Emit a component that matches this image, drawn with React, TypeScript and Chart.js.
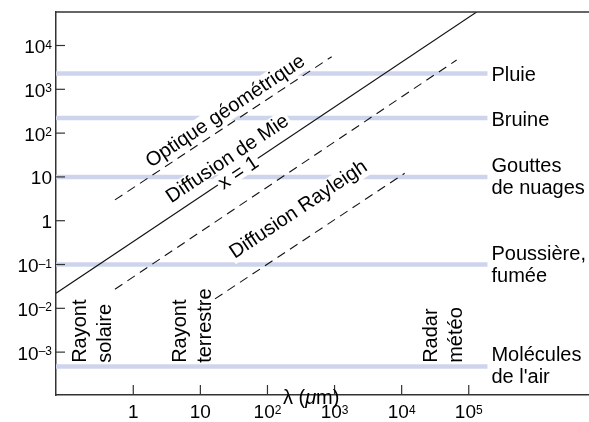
import React, { useEffect, useRef } from "react";
import { Chart, registerables } from "chart.js";

Chart.register(...registerables);

const FONT = "'Liberation Sans', Arial, Helvetica, sans-serif";

// Axis ranges (wavelength in µm on x, particle radius on y)
const xMin = 0.0705;
const xMax = 6.2e6;
const yMin = 1.05e-4;
const yMax = 58200;

// Tick values and labels
const xTickValues = [1, 10, 100, 1000, 10000, 100000];
const xTickBase = ["1", "10", "10", "10", "10", "10"];
const xTickExp = ["", "", "2", "3", "4", "5"];
const yTickValues = [1e4, 1e3, 1e2, 10, 1, 0.1, 0.01, 0.001];
const yTickBase = ["10", "10", "10", "10", "1", "10", "10", "10"];
const yTickExp = ["4", "3", "2", "", "", "–1", "–2", "–3"];

// Particle categories (horizontal bands)
const bandNames = [
  ["Pluie"],
  ["Bruine"],
  ["Gouttes", "de nuages"],
  ["Poussière,", "fumée"],
  ["Molécules", "de l'air"],
];
const bandRadius = [2300, 220, 10, 0.1, 0.00047];
const bandEnd = 190000;

// Regime boundaries (log-log straight lines)
const sizeParamOne = [
  { x: 0.0705, y: 0.0221 },
  { x: 131000, y: 58200 },
];
const geometricLimit = [
  { x: 0.533, y: 2.99 },
  { x: 906, y: 5550 },
];
const rayleighUpper = [
  { x: 0.533, y: 0.0273 },
  { x: 66000, y: 4670 },
];
const rayleighLower = [
  { x: 16.5, y: 0.0164 },
  { x: 11100, y: 12.1 },
];

// Rotated regime labels (centre in data coordinates)
const regimeText = ["Optique géométrique", "Diffusion de Mie", "x = 1", "Diffusion Rayleigh"];
const regimeX = [23.7, 24.5, 36.3, 290];
const regimeY = [311, 27.9, 13.0, 1.78];

// Vertical wavelength labels (bottom of first line in data coordinates)
const sourceText = [
  ["Rayont", "solaire"],
  ["Rayont", "terrestre"],
  ["Radar", "météo"],
];
const sourceX = [0.197, 6.1, 33400];
const sourceY = [5.7e-4, 5.7e-4, 5.7e-4];

const axisTitleX = 170;

function drawPow(ctx: CanvasRenderingContext2D, base: string, exp: string, x: number, y: number, align: string) {
  ctx.font = `19px ${FONT}`;
  const wb = ctx.measureText(base).width;
  ctx.font = `12px ${FONT}`;
  const we = exp ? ctx.measureText(exp).width : 0;
  const total = wb + we;
  const left = align === "center" ? x - total / 2 : x - total;
  ctx.textAlign = "left";
  ctx.textBaseline = "alphabetic";
  ctx.font = `19px ${FONT}`;
  ctx.fillText(base, left, y);
  if (exp) {
    ctx.font = `12px ${FONT}`;
    ctx.fillText(exp, left + wb, y - 4.5);
  }
}

const annotPlugin = {
  id: "annot",
  afterDraw(chart: any) {
    const { ctx, chartArea: ca } = chart;
    const xs = chart.scales.x;
    const ys = chart.scales.y;
    ctx.save();
    ctx.fillStyle = "#000";
    // top frame line
    ctx.strokeStyle = "#333";
    ctx.lineWidth = 1.5;
    ctx.beginPath();
    ctx.moveTo(ca.left, ca.top);
    ctx.lineTo(ca.right, ca.top);
    ctx.stroke();

    // inward ticks + labels
    ctx.lineWidth = 1.2;
    xTickValues.forEach((v, i) => {
      const px = xs.getPixelForValue(v);
      ctx.beginPath();
      ctx.moveTo(px, ca.bottom);
      ctx.lineTo(px, ca.bottom - 10);
      ctx.stroke();
      drawPow(ctx, xTickBase[i], xTickExp[i], px, ca.bottom + 23, "center");
    });
    yTickValues.forEach((v, i) => {
      const py = ys.getPixelForValue(v);
      ctx.beginPath();
      ctx.moveTo(ca.left, py);
      ctx.lineTo(ca.left + 9, py);
      ctx.stroke();
      drawPow(ctx, yTickBase[i], yTickExp[i], ca.left - 4, py + 7.5, "right");
    });

    // axis title λ (µm)
    {
      let px = xs.getPixelForValue(axisTitleX);
      const py = ca.bottom + 9;
      ctx.textAlign = "left";
      ctx.textBaseline = "alphabetic";
      const parts: [string, string][] = [
        ["λ (", `20px ${FONT}`],
        ["μ", `italic 20px ${FONT}`],
        ["m)", `20px ${FONT}`],
      ];
      parts.forEach(([t, f]) => {
        ctx.font = f;
        ctx.fillText(t, px, py);
        px += ctx.measureText(t).width;
      });
    }

    // band labels on the right
    ctx.font = `20px ${FONT}`;
    ctx.textAlign = "left";
    ctx.textBaseline = "alphabetic";
    bandNames.forEach((lines, i) => {
      const py = ys.getPixelForValue(bandRadius[i]);
      const px = xs.getPixelForValue(bandEnd) + 4;
      if (lines.length === 1) {
        ctx.fillText(lines[0], px, py + 8);
      } else {
        ctx.fillText(lines[0], px, py - 5);
        ctx.fillText(lines[1], px, py + 17);
      }
    });

    // rotated regime labels
    const a0x = xs.getPixelForValue(sizeParamOne[0].x);
    const a0y = ys.getPixelForValue(sizeParamOne[0].y);
    const a1x = xs.getPixelForValue(sizeParamOne[1].x);
    const a1y = ys.getPixelForValue(sizeParamOne[1].y);
    const ang = Math.atan2(a1y - a0y, a1x - a0x);
    regimeText.forEach((t, i) => {
      const px = xs.getPixelForValue(regimeX[i]);
      const py = ys.getPixelForValue(regimeY[i]);
      ctx.save();
      ctx.translate(px, py);
      ctx.rotate(ang);
      ctx.font = `20px ${FONT}`;
      const m = ctx.measureText(t);
      const asc = m.actualBoundingBoxAscent;
      const desc = m.actualBoundingBoxDescent;
      const h = asc + desc;
      ctx.fillStyle = "#fff";
      ctx.fillRect(-m.width / 2 - 2, -h / 2 - 1, m.width + 4, h + 2);
      ctx.fillStyle = "#000";
      ctx.textAlign = "center";
      ctx.textBaseline = "alphabetic";
      ctx.fillText(t, 0, (asc - desc) / 2);
      ctx.restore();
    });

    // vertical source labels
    sourceText.forEach((lines, i) => {
      const px = xs.getPixelForValue(sourceX[i]);
      const py = ys.getPixelForValue(sourceY[i]);
      ctx.save();
      ctx.translate(px, py);
      ctx.rotate(-Math.PI / 2);
      ctx.font = `20px ${FONT}`;
      ctx.fillStyle = "#000";
      ctx.textAlign = "left";
      ctx.textBaseline = "alphabetic";
      ctx.fillText(lines[0], 0, 0);
      ctx.fillText(lines[1], 0, 25);
      ctx.restore();
    });

    ctx.restore();
  },
};

export default function App() {
  const ref = useRef<HTMLCanvasElement>(null);
  useEffect(() => {
    if (!ref.current) return;
    const lineDs = (data: any[], dash: number[]) => ({
      data,
      showLine: true,
      borderColor: "#111",
      borderWidth: 1.1,
      borderDash: dash,
      pointRadius: 0,
      fill: false,
    });
    const bandDs = bandRadius.map((r) => ({
      data: [
        { x: xMin, y: r },
        { x: bandEnd, y: r },
      ],
      showLine: true,
      borderColor: "#ced4ec",
      borderWidth: 4.5,
      pointRadius: 0,
      fill: false,
    }));
    const chart = new Chart(ref.current, {
      type: "scatter",
      data: {
        datasets: [
          lineDs(sizeParamOne, []),
          lineDs(geometricLimit, [9, 6]),
          lineDs(rayleighUpper, [9, 6]),
          lineDs(rayleighLower, [9, 6]),
          ...bandDs,
        ] as any,
      },
      options: {
        animation: false,
        responsive: false,
        layout: { padding: { top: 12, left: 0, right: 0, bottom: 0 } },
        plugins: { legend: { display: false }, tooltip: { enabled: false } },
        scales: {
          x: {
            type: "logarithmic",
            min: xMin,
            max: xMax,
            ticks: { display: false },
            grid: { display: false },
            border: { display: true, color: "#333", width: 1.5 },
            afterFit: (s: any) => {
              s.height = 27;
            },
          },
          y: {
            type: "logarithmic",
            min: yMin,
            max: yMax,
            ticks: { display: false },
            grid: { display: false },
            border: { display: true, color: "#333", width: 1.5 },
            afterFit: (s: any) => {
              s.width = 56;
            },
          },
        },
      } as any,
      plugins: [annotPlugin],
    });
    return () => chart.destroy();
  }, []);
  return (
    <div style={{ position: "fixed", left: 0, top: 0, width: 589, height: 422, background: "#fff" }}>
      <canvas ref={ref} width={589} height={422} />
    </div>
  );
}
